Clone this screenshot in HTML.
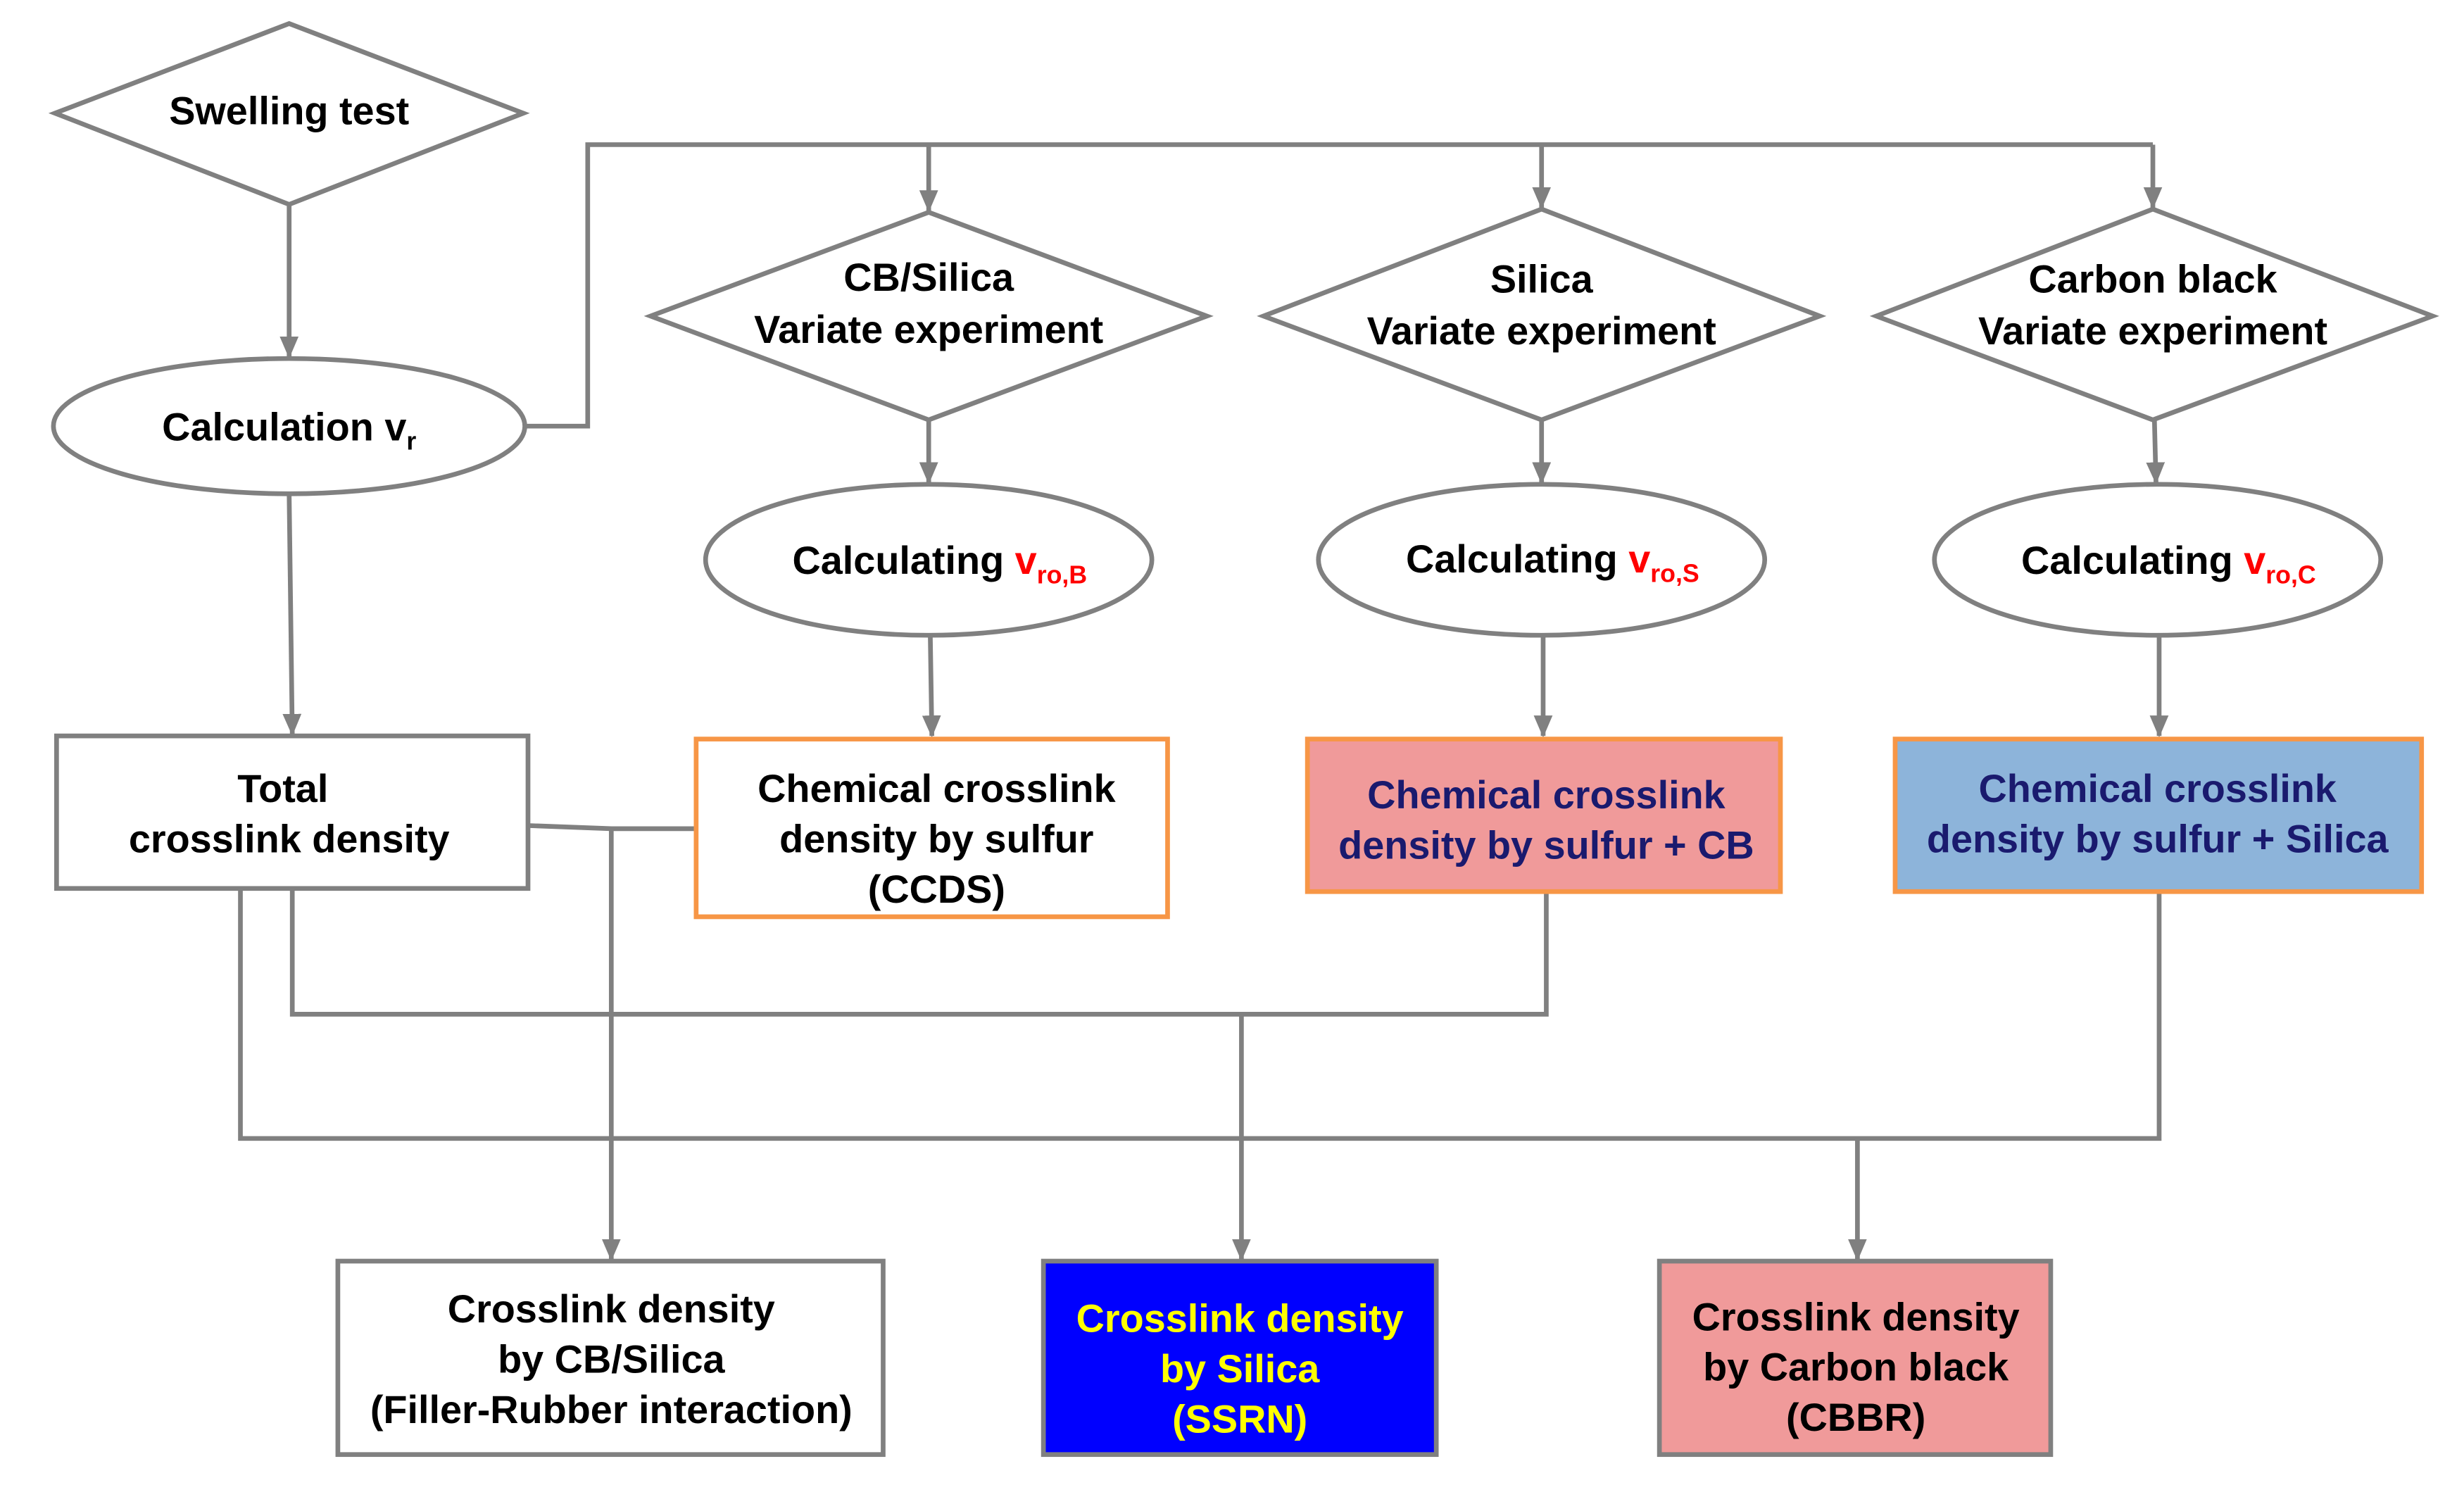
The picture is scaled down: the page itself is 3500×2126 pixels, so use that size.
<!DOCTYPE html>
<html><head><meta charset="utf-8"><style>html,body{margin:0;padding:0;background:#fff}svg{display:block}</style></head><body>
<svg width="3500" height="2126" viewBox="0 0 1568 952" preserveAspectRatio="none" xmlns="http://www.w3.org/2000/svg">
<defs><marker id="a" markerWidth="14" markerHeight="12" refX="13" refY="6" orient="auto" markerUnits="userSpaceOnUse" viewBox="0 0 14 12"><path d="M0,0 L14,6 L0,12 z" fill="#808080"/></marker></defs>
<g fill="none" stroke="#808080" stroke-width="3">
<polygon points="35,72 184,15 333,72 184,130" fill="#fff"/>
<line x1="184" y1="130" x2="184" y2="227" marker-end="url(#a)"/>
<ellipse cx="184" cy="271" rx="150" ry="43" fill="#fff"/>
<polyline points="334,271 374,271 374,92 1370,92"/>
<line x1="591" y1="92" x2="591" y2="134" marker-end="url(#a)"/>
<line x1="981" y1="92" x2="981" y2="132" marker-end="url(#a)"/>
<line x1="1370" y1="92" x2="1370" y2="132" marker-end="url(#a)"/>
<polygon points="414,201 591,135 768,201 591,267" fill="#fff"/>
<polygon points="804,201 981,133 1158,201 981,267" fill="#fff"/>
<polygon points="1194,201 1370,133 1548,201 1370,267" fill="#fff"/>
<line x1="591" y1="267" x2="591" y2="307" marker-end="url(#a)"/>
<line x1="981" y1="267" x2="981" y2="307" marker-end="url(#a)"/>
<line x1="1371" y1="267" x2="1372" y2="307" marker-end="url(#a)"/>
<ellipse cx="591" cy="356" rx="142" ry="48" fill="#fff"/>
<ellipse cx="981" cy="356" rx="142" ry="48" fill="#fff"/>
<ellipse cx="1373" cy="356" rx="142" ry="48" fill="#fff"/>
<line x1="592" y1="404" x2="593" y2="468" marker-end="url(#a)"/>
<line x1="982" y1="404" x2="982" y2="468" marker-end="url(#a)"/>
<line x1="1374" y1="404" x2="1374" y2="468" marker-end="url(#a)"/>
<line x1="184" y1="314" x2="186" y2="467" marker-end="url(#a)"/>
<rect x="36" y="468" width="300" height="97" fill="#fff"/>
<polyline points="336,525 389,527 443,527"/>
<line x1="389" y1="527" x2="389" y2="801" marker-end="url(#a)"/>
<polyline points="186,565 186,645 984,645 984,567"/>
<line x1="790" y1="645" x2="790" y2="801" marker-end="url(#a)"/>
<polyline points="153,565 153,724 1374,724 1374,567"/>
<line x1="1182" y1="724" x2="1182" y2="801" marker-end="url(#a)"/>
<rect x="215" y="802" width="347" height="123" fill="#fff"/>
<rect x="664" y="802" width="250" height="123" fill="#0000FF"/>
<rect x="1056" y="802" width="249" height="123" fill="#F09A9A"/>
</g>
<g stroke="#F79646" stroke-width="3">
<rect x="443" y="470" width="300" height="113" fill="#fff"/>
<rect x="832" y="470" width="301" height="97" fill="#F09A9A"/>
<rect x="1206" y="470" width="335" height="97" fill="#8DB4DA"/>
</g>
<g font-family="Liberation Sans, sans-serif" font-weight="bold" font-size="25" text-anchor="middle" fill="#000">
<text x="184" y="79">Swelling test</text>
<text x="184" y="280">Calculation v<tspan font-size="16" dy="6">r</tspan></text>
<text x="591" y="185">CB/Silica</text><text x="591" y="218">Variate experiment</text>
<text x="981" y="186">Silica</text><text x="981" y="219">Variate experiment</text>
<text x="1370" y="186">Carbon black</text><text x="1370" y="219">Variate experiment</text>
<text x="598" y="365">Calculating <tspan fill="#FF0000">v<tspan font-size="16" dy="6">ro,B</tspan></tspan></text>
<text x="988" y="364">Calculating <tspan fill="#FF0000">v<tspan font-size="16" dy="6">ro,S</tspan></tspan></text>
<text x="1380" y="365">Calculating <tspan fill="#FF0000">v<tspan font-size="16" dy="6">ro,C</tspan></tspan></text>
<text x="180" y="510">Total</text><text x="184" y="542">crosslink density</text>
<text x="596" y="510">Chemical crosslink</text><text x="596" y="542">density by sulfur</text><text x="596" y="574">(CCDS)</text>
<g fill="#1A1A6E"><text x="984" y="514">Chemical crosslink</text><text x="984" y="546">density by sulfur + CB</text>
<text x="1373" y="510">Chemical crosslink</text><text x="1373" y="542">density by sulfur + Silica</text></g>
<text x="389" y="841">Crosslink density</text><text x="389" y="873">by CB/Silica</text><text x="389" y="905">(Filler-Rubber interaction)</text>
<g fill="#FFFF00"><text x="789" y="847">Crosslink density</text><text x="789" y="879">by Silica</text><text x="789" y="911">(SSRN)</text></g>
<text x="1181" y="846">Crosslink density</text><text x="1181" y="878">by Carbon black</text><text x="1181" y="910">(CBBR)</text>
</g>
</svg>
</body></html>
